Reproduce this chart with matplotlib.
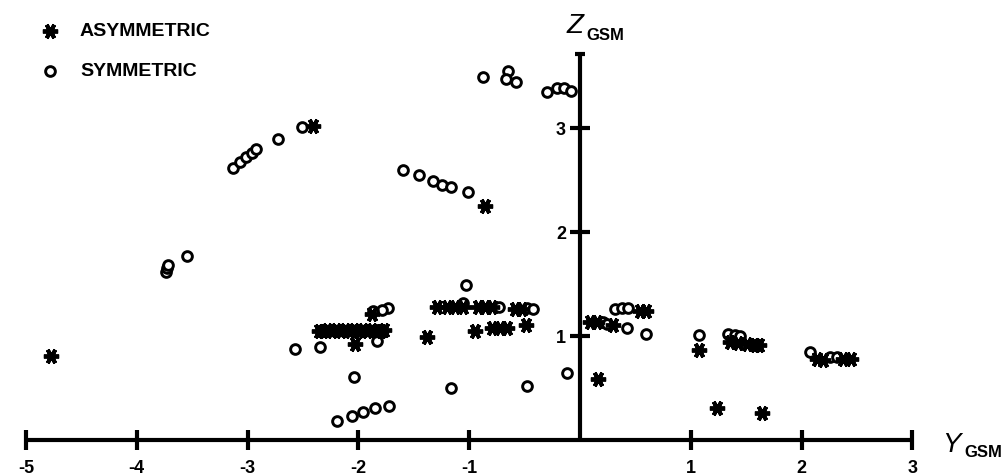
import matplotlib
matplotlib.use("Agg")
import matplotlib.pyplot as plt

plt.rcParams["font.family"] = ["Liberation Sans", "DejaVu Sans"]

# asymmetric events (Y_GSM, Z_GSM)
asym_y = [-4.77, -2.41, -0.86,
          -2.36, -2.32, -2.28, -2.24, -2.20, -2.16, -2.12, -2.08, -2.04, -2.00,
          -1.96, -1.92, -1.88, -1.84, -1.80, -1.77,
          -2.03, -1.88, -1.38,
          -1.29, -1.20, -1.13, -1.06, -0.92, -0.86, -0.79, -0.59, -0.52,
          -0.95, -0.79, -0.72, -0.66, -0.49,
          0.09, 0.15, 0.30, 0.54, 0.60, 0.16,
          1.07, 1.35, 1.43, 1.51, 1.58, 1.62,
          2.14, 2.19, 2.37, 2.45, 1.24, 1.64]
asym_z = [0.81, 3.02, 2.25,
          1.05, 1.05, 1.06, 1.05, 1.06, 1.05, 1.06, 1.05, 1.06, 1.05,
          1.06, 1.05, 1.06, 1.05, 1.05, 1.06,
          0.92, 1.21, 0.99,
          1.28, 1.28, 1.28, 1.28, 1.28, 1.28, 1.28, 1.26, 1.26,
          1.05, 1.08, 1.08, 1.08, 1.11,
          1.13, 1.13, 1.11, 1.24, 1.24, 0.59,
          0.87, 0.94, 0.93, 0.92, 0.91, 0.91,
          0.78, 0.77, 0.78, 0.78, 0.31, 0.26]

# symmetric events (Y_GSM, Z_GSM)
sym_y = [-3.13, -3.07, -3.01, -2.96, -2.92, -2.73, -2.51,
         -3.74, -3.73, -3.72, -3.55,
         -0.875, -0.65, -0.67, -0.58, -0.30, -0.21, -0.14, -0.08,
         -1.60, -1.45, -1.33, -1.25, -1.16, -1.01,
         -2.57, -2.35, -2.04, -1.83, -1.73, -1.79, -1.87,
         -2.19, -2.06, -1.96, -1.85, -1.72,
         -1.03, -1.06, -0.73, -0.48, -0.42,
         -1.16, -0.48, -0.12,
         0.21, 0.24, 0.42, 0.60, 0.32, 0.38, 0.43,
         1.07, 1.34, 1.40, 1.44, 2.08, 2.26, 2.32]
sym_z = [2.62, 2.67, 2.72, 2.76, 2.80, 2.89, 3.01,
         1.62, 1.65, 1.68, 1.77,
         3.49, 3.55, 3.47, 3.44, 3.35, 3.38, 3.38, 3.36,
         2.60, 2.55, 2.49, 2.45, 2.43, 2.38,
         0.875, 0.89, 0.61, 0.95, 1.27, 1.25, 1.24,
         0.18, 0.23, 0.27, 0.31, 0.33,
         1.49, 1.32, 1.28, 1.27, 1.26,
         0.50, 0.52, 0.64,
         1.13, 1.12, 1.08, 1.02, 1.26, 1.27, 1.27,
         1.01, 1.02, 1.01, 1.00, 0.85, 0.80, 0.80]

x_ticks = [-5, -4, -3, -2, -1, 1, 2, 3]
z_ticks = [1, 2, 3]
z_top = 3.71

# pixel calibration of the original figure
X0, XU, Y0, YU = 580, 110.8, 441, 104
W, H = 1002, 477

def px(x, y):
    return (x - X0) / XU, (Y0 - y) / YU

fig = plt.figure(figsize=(W / 100, H / 100), dpi=100)
ax = fig.add_axes([0, 0, 1, 1])
ax.set_xlim(-X0 / XU, (W - X0) / XU)
ax.set_ylim((Y0 - H) / YU, Y0 / YU)

ast = (6, 2, 90)
ax.plot(sym_y, sym_z, "o", ms=7, mfc="white", mec="black", mew=2.1, ls="none", zorder=3)
ax.plot(asym_y, asym_z, marker=ast, ms=11, mec="black", mew=2.8, ls="none", zorder=4)

# cross-shaped axes through the origin
for s in ("top", "right"):
    ax.spines[s].set_visible(False)
ax.spines["left"].set_position(("data", 0))
ax.spines["bottom"].set_position(("data", 0))
ax.spines["left"].set_bounds(0, z_top)
ax.spines["bottom"].set_bounds(-5, 3)
for s in ("left", "bottom"):
    ax.spines[s].set_linewidth(3)
    ax.spines[s].set_capstyle("butt")
# end cap at the top of the vertical axis
ax.plot([-0.045, 0.045], [z_top, z_top], color="black", lw=3, solid_capstyle="butt")

ax.set_xticks(x_ticks)
ax.set_xticklabels([str(t) for t in x_ticks])
ax.set_yticks(z_ticks)
ax.set_yticklabels([str(t) for t in z_ticks])
ax.tick_params(axis="x", direction="inout", length=14, width=3, labelsize=13, pad=7)
ax.tick_params(axis="y", direction="inout", length=14, width=3, labelsize=13, pad=3)
for lab in ax.get_xticklabels() + ax.get_yticklabels():
    lab.set_fontweight("bold")

# axis titles
ax.text(*px(942, 452), "Y", fontsize=20, style="italic", va="baseline", ha="left")
ax.text(*px(964, 457), "GSM", fontsize=12, fontweight="bold", va="baseline", ha="left")
ax.text(*px(567, 33), "Z", fontsize=20, style="italic", va="baseline", ha="left")
ax.text(*px(586, 40), "GSM", fontsize=12, fontweight="bold", va="baseline", ha="left")

# legend
ax.plot(*px(50, 32), marker=ast, ms=11, mec="black", mew=2.8, ls="none")
ax.plot(*px(50, 72), "o", ms=7, mfc="white", mec="black", mew=2.1)
ax.text(*px(80, 32), "ASYMMETRIC", fontsize=14, fontweight="bold", va="center")
ax.text(*px(80, 72), "SYMMETRIC", fontsize=14, fontweight="bold", va="center")

fig.savefig("out.png", dpi=100)
